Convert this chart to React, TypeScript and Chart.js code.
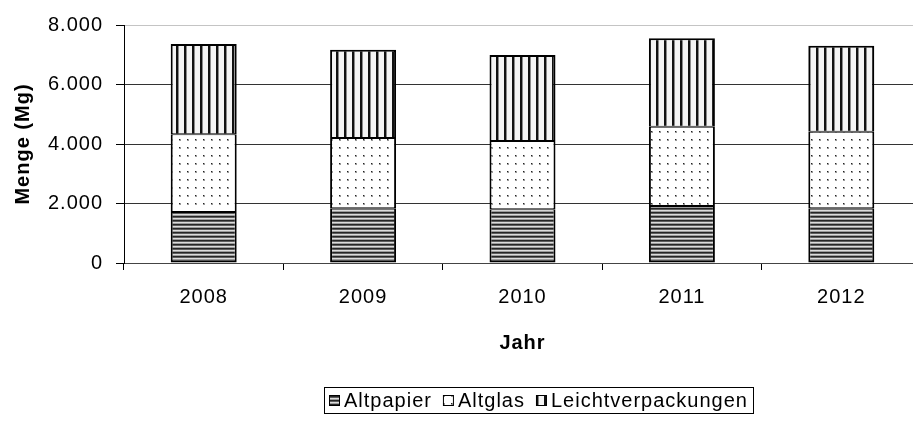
import React, { useEffect, useRef } from 'react';
import { Chart, registerables } from 'chart.js';

Chart.register(...registerables);

// ---- data ----
const categories = ['2008', '2009', '2010', '2011', '2012'];
const seriesLabels = ['Altpapier', 'Altglas', 'Leichtverpackungen'];
const altpapier = [1714, 1840, 1805, 1916, 1838];
const altglas = [2612, 2362, 2296, 2666, 2576];
const leichtverpackungen = [3035, 2968, 2891, 2971, 2891];
const yMin = 0;
const yMax = 8000;
const yStep = 2000;
const xTitle = 'Jahr';
const yTitle = 'Menge (Mg)';

const FONT = '"Liberation Sans", Arial, Helvetica, sans-serif';
const LS = '1px';
const FS = 20;

function fmt(v: number | string) {
  return String(v).replace(/\B(?=(\d{3})+(?!\d))/g, '.');
}

function makePattern(kind: 'h' | 'd' | 'v'): CanvasPattern {
  const c = document.createElement('canvas');
  const g = c.getContext('2d')!;
  if (kind === 'h') {
    c.width = 4;
    c.height = 4;
    const rows = ['#262626', '#5e5e5e', '#dcdcdc', '#9c9c9c'];
    rows.forEach((col, i) => {
      g.fillStyle = col;
      g.fillRect(0, i, 4, 1);
    });
  } else if (kind === 'd') {
    c.width = 8;
    c.height = 8;
    g.fillStyle = '#ffffff';
    g.fillRect(0, 0, 8, 8);
    g.fillStyle = '#9a9a9a';
    g.fillRect(3, 3, 2, 2);
    g.fillStyle = '#222222';
    g.fillRect(3, 3, 1, 1);
  } else {
    c.width = 8;
    c.height = 1;
    g.fillStyle = '#f4f4f4';
    g.fillRect(0, 0, 8, 1);
    g.fillStyle = '#111111';
    g.fillRect(0, 0, 2, 1);
    g.fillStyle = '#8a8a8a';
    g.fillRect(2, 0, 1, 1);
  }
  return g.createPattern(c, 'repeat')!;
}

const spacingPlugin = {
  id: 'letterSpacing',
  beforeUpdate(chart: any) {
    chart.ctx.letterSpacing = LS;
  },
  beforeDraw(chart: any) {
    chart.ctx.letterSpacing = LS;
  },
};

const boxLegend = {
  id: 'boxLegend',
  afterDraw(chart: any) {
    const ctx: CanvasRenderingContext2D = chart.ctx;
    ctx.save();
    (ctx as any).letterSpacing = LS;
    ctx.font = `${FS}px ${FONT}`;
    const items = chart.data.datasets.map((ds: any) => ({ label: ds.label, fill: ds.backgroundColor }));
    const icon = 11;
    const gapIT = 4;
    const gapItems = 11;
    const padX = 5;
    const widths = items.map((it: any) => icon + gapIT + ctx.measureText(it.label).width);
    const total = widths.reduce((a: number, b: number) => a + b, 0) + gapItems * (items.length - 1) + padX * 2;
    const ca = chart.chartArea;
    const cx = (ca.left + ca.right) / 2 + 16;
    const top = chart.height - 35;
    const h = 26;
    const left = Math.round(cx - total / 2);
    ctx.strokeStyle = '#000';
    ctx.lineWidth = 1;
    ctx.strokeRect(left + 0.5, top + 0.5, Math.round(total), h);
    let x = left + padX;
    const cy = top + h / 2 + 0.5;
    items.forEach((it: any, i: number) => {
      const iy = Math.round(cy - icon / 2);
      ctx.fillStyle = it.fill;
      ctx.fillRect(x, iy, icon, icon);
      ctx.strokeStyle = '#000';
      ctx.strokeRect(x + 0.5, iy + 0.5, icon - 1, icon - 1);
      ctx.fillStyle = '#000';
      ctx.textAlign = 'left';
      ctx.textBaseline = 'middle';
      ctx.fillText(it.label, x + icon + gapIT, cy + 1);
      x += widths[i] + gapItems;
    });
    ctx.restore();
  },
};

export default function App() {
  const ref = useRef<HTMLCanvasElement | null>(null);

  useEffect(() => {
    const canvas = ref.current;
    if (!canvas) return;
    const pH = makePattern('h');
    const pD = makePattern('d');
    const pV = makePattern('v');
    const chart = new Chart(canvas, {
      type: 'bar',
      data: {
        labels: categories,
        datasets: [
          {
            label: seriesLabels[0],
            data: altpapier,
            backgroundColor: pH as any,
            borderColor: '#000',
            borderWidth: { top: 1, bottom: 2, left: 2, right: 2 } as any,
            borderSkipped: false,
          },
          {
            label: seriesLabels[1],
            data: altglas,
            backgroundColor: pD as any,
            borderColor: '#000',
            borderWidth: { top: 1, bottom: 1, left: 2, right: 2 } as any,
            borderSkipped: false,
          },
          {
            label: seriesLabels[2],
            data: leichtverpackungen,
            backgroundColor: pV as any,
            borderColor: '#000',
            borderWidth: { top: 2, bottom: 1, left: 2, right: 2 } as any,
            borderSkipped: false,
          },
        ],
      },
      options: {
        responsive: false,
        animation: false,
        devicePixelRatio: 1,
        categoryPercentage: 1,
        barPercentage: 0.414,
        layout: { padding: { left: 0, right: 19, top: 25, bottom: 0 } },
        plugins: {
          legend: { display: false },
          tooltip: { enabled: false },
        },
        scales: {
          x: {
            stacked: true,
            offset: true,
            grid: {
              display: true,
              drawOnChartArea: false,
              drawTicks: true,
              tickLength: 7,
              tickColor: '#000',
              offset: true,
            },
            border: { display: true, color: '#444', width: 1 },
            ticks: {
              color: '#000',
              font: { family: FONT, size: FS },
              padding: 15,
              maxRotation: 0,
              autoSkip: false,
            },
            title: {
              display: true,
              text: xTitle,
              color: '#000',
              font: { family: FONT, size: FS, weight: 'bold' },
              padding: { top: 0, bottom: 67 },
            },
            afterFit(s: any) {
              s.height = 159;
            },
          },
          y: {
            stacked: true,
            min: yMin,
            max: yMax,
            ticks: {
              stepSize: yStep,
              callback: (v: any) => fmt(v),
              padding: 13,
              color: '#000',
              font: { family: FONT, size: FS },
            },
            grid: {
              color: (c: any) => (c.tick && c.tick.value === yMax ? '#c4c4c4' : '#333'),
              tickColor: '#000',
              tickLength: 8,
              lineWidth: 1,
            },
            border: { display: true, color: '#000', width: 1 },
            title: {
              display: true,
              text: yTitle,
              color: '#000',
              font: { family: FONT, size: FS, weight: 'bold' },
              padding: { top: 11, bottom: 0 },
            },
            afterFit(s: any) {
              s.width = 124;
            },
          },
        },
      } as any,
      plugins: [spacingPlugin, boxLegend],
    });
    return () => chart.destroy();
  }, []);

  return (
    <div
      style={{
        position: 'fixed',
        left: 0,
        top: 0,
        width: 913,
        height: 422,
        overflow: 'hidden',
        background: '#fff',
      }}
    >
      <canvas ref={ref} width={940} height={422} style={{ display: 'block' }} />
    </div>
  );
}
